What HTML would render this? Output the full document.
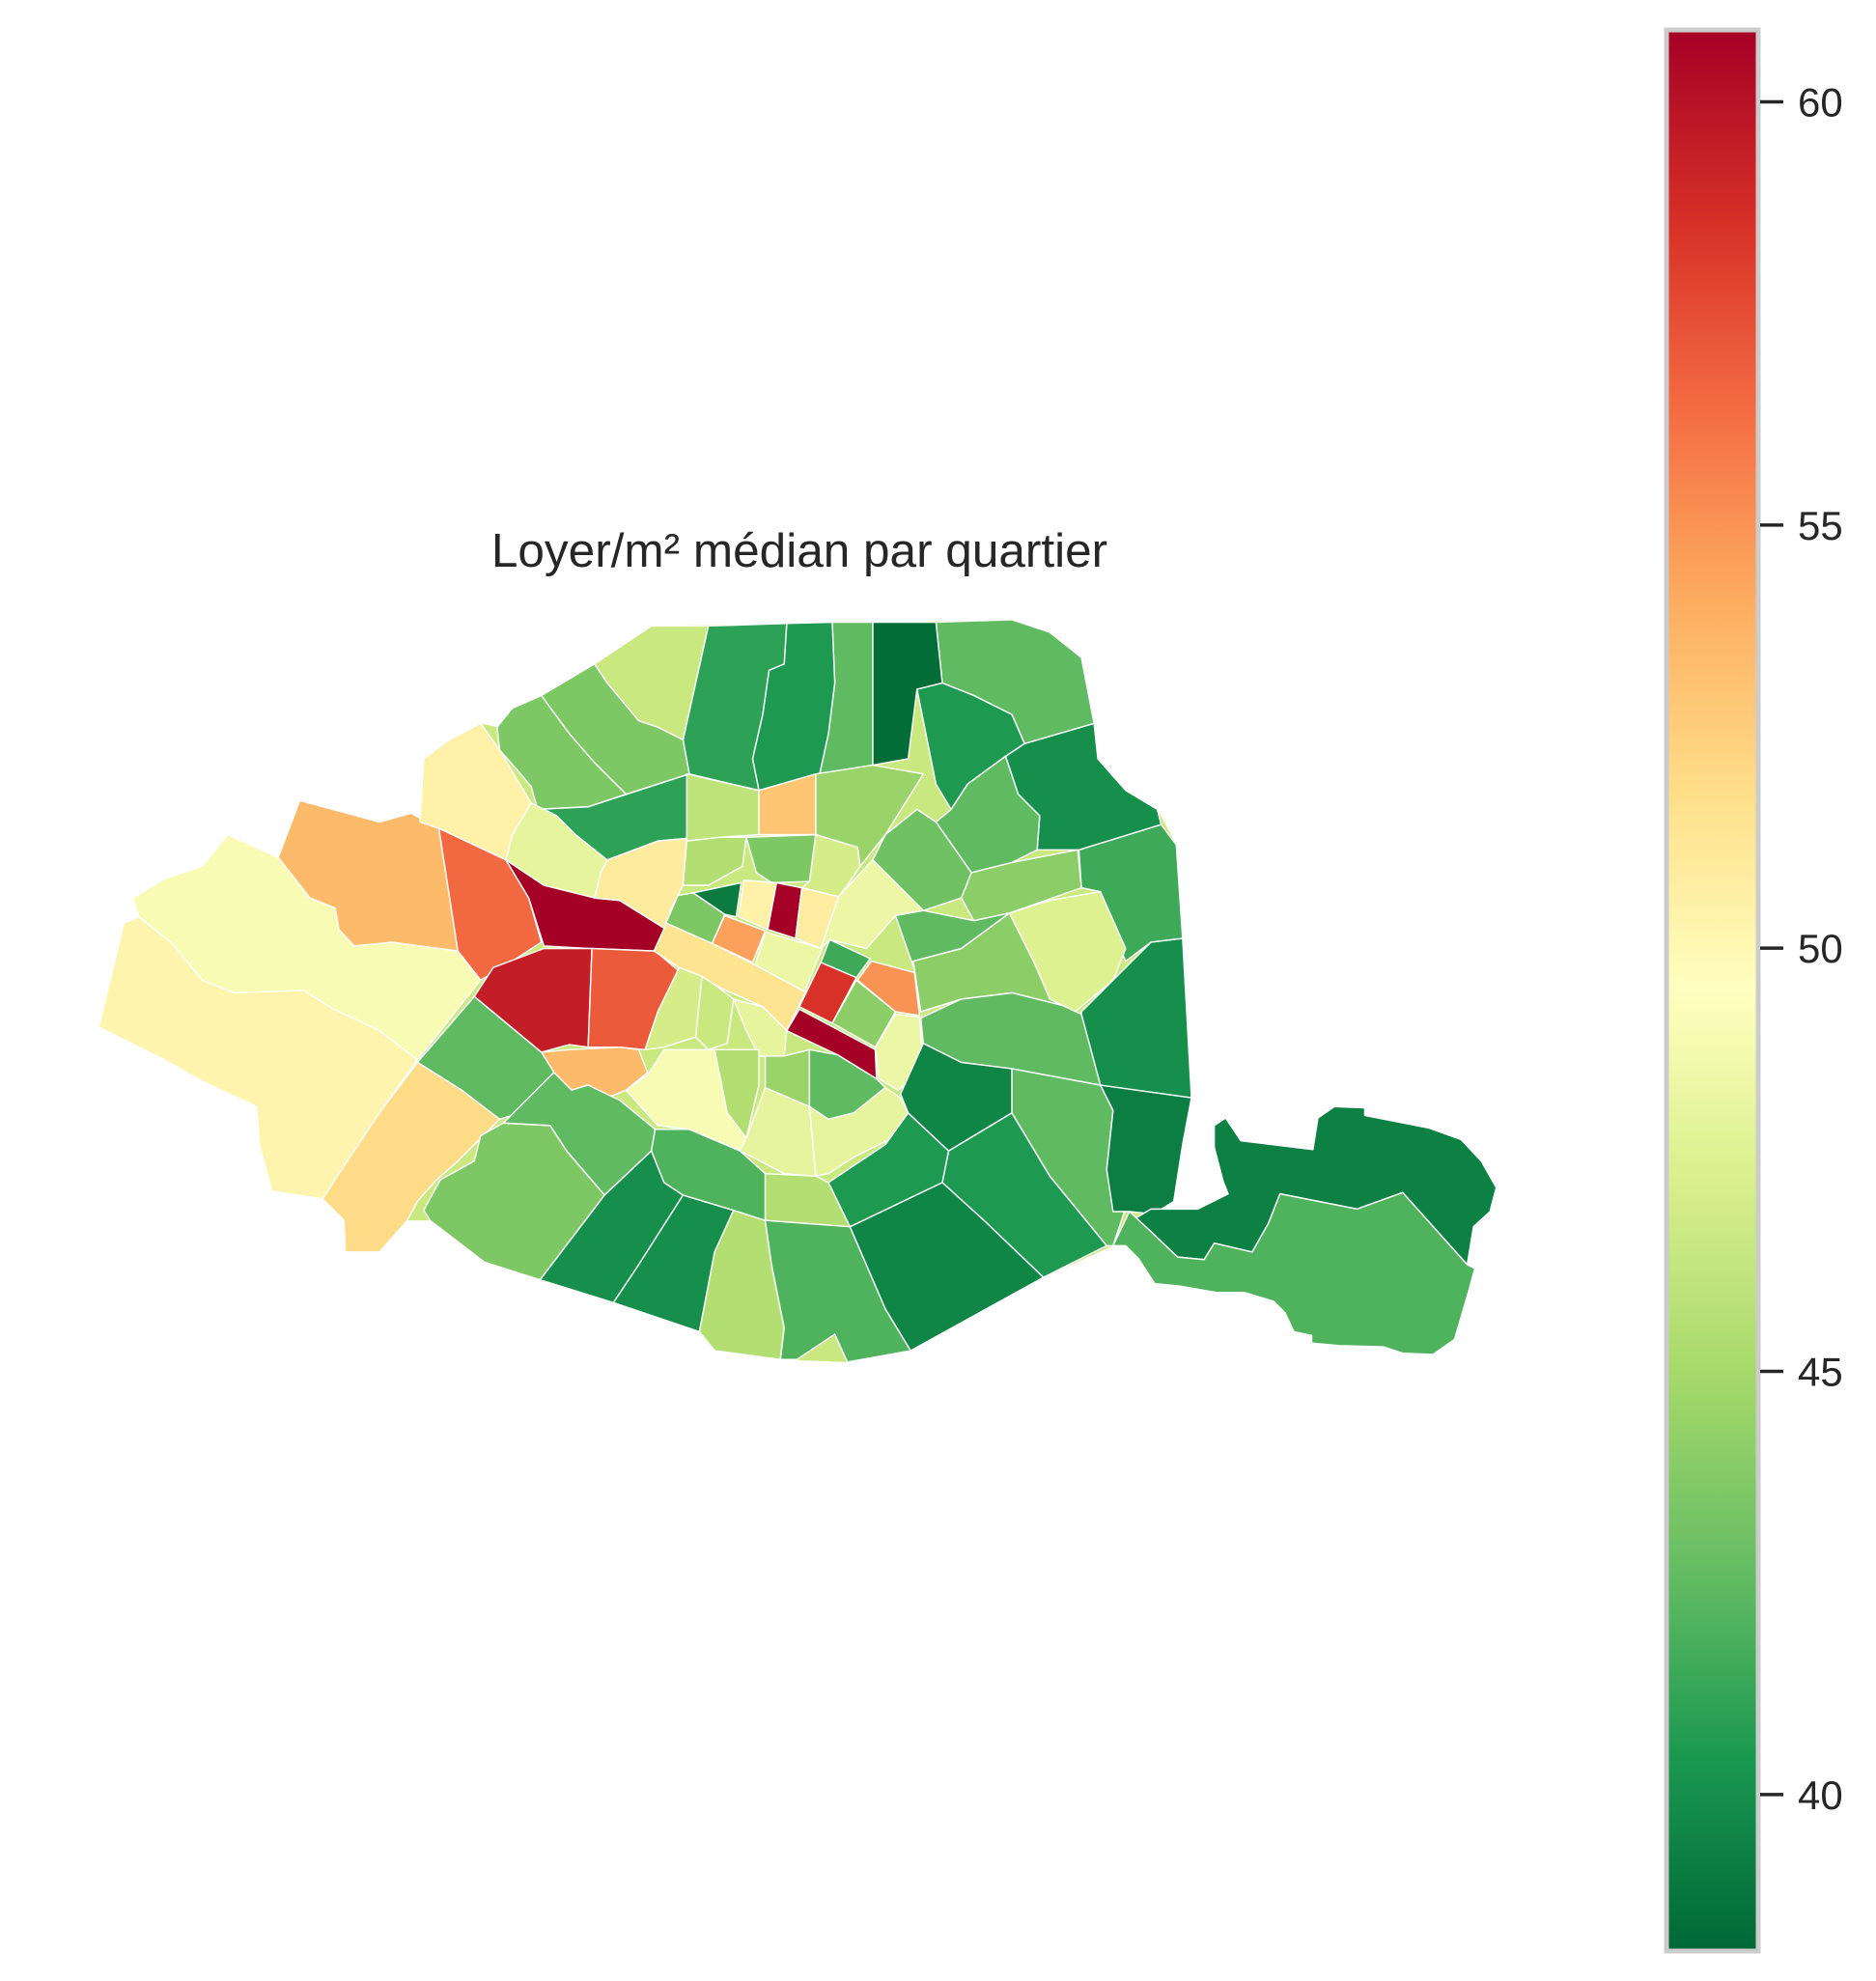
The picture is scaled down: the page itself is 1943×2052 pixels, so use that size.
<!DOCTYPE html>
<html><head><meta charset="utf-8"><title>Loyer/m² médian par quartier</title>
<style>
html,body{margin:0;padding:0;background:#fff;}
#wrap{position:relative;width:1943px;height:2052px;overflow:hidden;}
svg{position:absolute;left:0;top:0;}
text{font-family:"Liberation Sans",sans-serif;fill:#262626;}
</style></head>
<body>
<div id="wrap">
<svg id="chart" width="1943" height="2052" viewBox="0 0 1943 2052">
  <defs>
    <linearGradient id="cbgrad" x1="0" y1="1" x2="0" y2="0"></linearGradient>
  </defs>
  <text x="828" y="587" text-anchor="middle" font-size="49.5">Loyer/m² médian par quartier</text>
  <g id="map" transform="scale(1.31)"></g>
  <g id="colorbar"></g>
</svg>
</div>
<script>
// ---- data ----
const vmin = 38.15;
const vmax = 60.85;
const colorbarTicks = [40, 45, 50, 55, 60];
const colorbarTickLabels = ["40", "45", "50", "55", "60"];
// median rent per m² for each quartier (same order as quartierShapes)
const quartierValues = [
 50.3, 49.0, 53.5, 50.5, 56.5, 61.0, 59.5, 57.0, 53.5, 42.5,
 52.0, 43.5, 42.5, 40.0, 40.0, 45.5, 42.0, 39.5, 40.5, 42.5,
 39.2, 39.3, 42.0, 40.0, 41.5, 47.5, 44.0, 40.0, 42.5, 40.5,
 42.5, 38.4, 42.5, 40.5, 41.0, 46.5, 43.5, 43.5, 41.0, 48.0,
 51.0, 46.0, 53.0, 44.5, 43.0, 45.5, 43.5, 47.0, 39.0, 50.5,
 61.0, 50.8, 43.5, 54.5, 51.5, 48.3, 41.5, 58.5, 55.0, 48.3,
 44.0, 61.0, 48.3, 47.0, 46.5, 48.0, 45.5, 44.5, 42.5, 49.0,
 48.0, 48.0, 42.0, 45.5, 40.5, 39.5, 42.5, 44.0, 42.5
];
const baseValue = 46.5;
// geometry (map coordinates)
const quartierShapes = [
 "78,812 98,730 110,725 135,745 160,775 185,785 240,783 262,797 300,815 330,838 300,880 270,925 255,948 215,942 205,905 203,875 160,855 130,838",
 "110,725 105,710 130,695 160,685 180,660 220,678 245,710 265,718 268,735 280,748 310,745 362,752 380,775 330,838 300,815 262,797 240,783 185,785 160,775 135,745",
 "220,678 237,633 300,650 325,643 347,655 362,752 310,745 280,748 268,735 265,718 245,710",
 "332,650 335,600 355,585 380,572 395,593 405,610 420,635 405,660 400,680 347,655",
 "347,655 400,680 418,710 428,745 405,760 380,775 362,752",
 "400,680 470,710 490,712 527,735 518,752 465,750 430,748 418,710",
 "375,788 390,765 430,750 468,750 465,828 450,826 428,832",
 "468,750 518,752 537,768 525,790 515,815 510,830 490,828 465,828",
 "428,832 450,830 490,828 505,830 512,848 495,862 480,868 465,858 452,862 438,848",
 "375,788 428,832 438,848 405,882 395,885 365,862 330,840",
 "330,840 365,862 395,885 380,900 360,920 345,933 330,950 322,965 300,990 273,990 272,965 255,948 270,925 300,880",
 "335,957 348,933 375,918 380,898 398,888 435,890 448,910 478,945 427,1012 383,998 340,965",
 "398,888 438,848 452,862 465,858 490,870 518,893 515,910 478,945 448,910 435,890",
 "427,1012 478,945 515,910 525,935 540,945 505,1000 485,1030",
 "485,1030 505,1000 540,945 580,957 565,990 553,1053",
 "553,1053 565,990 580,957 605,965 610,1000 620,1050 617,1075 565,1068",
 "605,965 655,935 672,970 700,1035 720,1068 670,1077 660,1055 630,1075 617,1075 620,1050 610,1000",
 "672,970 745,935 778,965 825,1010 720,1068 700,1035",
 "745,935 750,910 800,880 830,930 875,985 825,1010 778,965",
 "800,880 800,845 870,858 880,878 875,925 890,955 880,985 875,985 830,930",
 "870,858 942,868 935,905 928,950 912,960 893,958 880,958 875,925 880,878",
 "960,890 969,884 981,902 1038,909 1042,884 1055,875 1079,876 1079,882 1130,892 1155,901 1171,918 1183,939 1178,958 1165,970 1160,1000 1109,943 1073,956 1012,944 1003,967 990,990 960,983 952,996 931,994 908,972 895,965 910,956 947,956 971,944 967,934 960,907",
 "880,985 893,958 908,972 931,994 952,996 960,983 990,990 1003,967 1012,944 1073,956 1109,943 1160,1000 1166,1003 1162,1018 1150,1059 1133,1071 1109,1070 1094,1065 1059,1064 1037,1062 1037,1056 1023,1053 1016,1038 1007,1029 984,1022 962,1022 933,1017 913,1015 900,995 890,985",
 "855,800 910,745 935,742 942,868 870,858 855,805",
 "853,672 918,652 930,668 935,742 910,745 890,760 872,718 870,705 855,702",
 "798,722 830,712 870,705 890,750 880,775 850,800 830,790 818,762",
 "768,690 800,682 852,672 855,702 798,722 770,728 760,710",
 "795,598 810,588 865,572 868,600 890,625 915,640 918,652 853,672 820,672 822,645 805,628",
 "740,492 800,490 830,500 855,520 865,572 810,588 800,565 770,550 745,540",
 "725,545 745,540 770,550 800,565 810,588 795,598 765,620 752,640 740,620",
 "752,640 765,620 795,598 805,628 822,645 820,672 800,682 768,690 740,650",
 "690,492 740,492 745,540 725,545 718,600 690,605",
 "658,492 690,492 690,605 648,612 655,580 660,540",
 "622,493 658,492 660,540 655,580 648,612 628,618 600,625 595,600 603,565 608,530 620,525",
 "560,495 622,493 620,525 608,530 603,565 595,600 600,625 545,612 540,585",
 "470,525 515,495 560,495 540,585 520,575 505,570 480,540",
 "428,550 470,525 480,540 505,570 520,575 540,585 545,612 495,628 465,598 450,580",
 "393,575 405,560 428,550 450,580 470,603 495,628 465,638 425,640 420,622 410,610 395,593",
 "425,640 465,638 545,612 543,663 520,665 480,680 455,660 440,645",
 "405,660 420,635 440,645 455,660 480,680 475,690 470,710 430,700 400,680",
 "475,690 480,680 520,665 543,663 540,700 530,720 527,735 490,712 470,710",
 "543,612 600,625 600,660 570,662 543,665",
 "600,625 645,612 645,660 600,660",
 "645,612 690,605 730,612 700,660 680,685 678,670 645,660",
 "700,660 725,640 740,650 768,690 760,710 730,720 712,702 690,680",
 "543,665 570,662 590,662 587,685 560,700 540,700",
 "590,662 645,660 640,697 610,698 598,690",
 "645,660 678,670 680,685 670,700 663,709 634,702 640,697",
 "548,706 586,698 582,725 573,723",
 "588,696 614,698 607,735 584,725",
 "614,698 634,702 629,742 607,735",
 "634,702 663,709 649,750 629,742",
 "536,708 548,706 573,723 563,746 526,731",
 "573,724 605,736 595,761 563,746",
 "517,752 527,730 563,746 597,763 637,784 622,815 603,796 567,780 537,765",
 "605,737 650,750 636,784 597,763",
 "656,743 688,758 677,773 649,761",
 "649,761 677,773 658,809 632,796",
 "689,760 723,769 727,803 708,800 678,775",
 "663,709 690,680 712,702 730,720 708,724 685,750 656,743 649,750",
 "658,809 677,775 708,800 692,828",
 "622,815 632,798 692,830 693,853 662,834",
 "692,828 708,802 727,804 730,845 710,862 695,853",
 "510,830 520,800 537,765 555,772 560,785 550,820 525,828",
 "555,772 567,780 580,790 575,825 560,830 550,820",
 "580,790 603,796 622,815 620,835 600,835 590,815",
 "565,830 600,830 600,858 590,900 575,880 565,860",
 "605,835 620,835 640,830 640,875 620,870 605,860",
 "640,830 662,834 693,853 700,860 675,880 655,885 640,875",
 "495,862 512,850 525,830 565,830 575,880 590,900 585,910 545,893 520,890",
 "590,900 605,860 640,875 645,930 620,928 595,915 585,910",
 "640,875 655,885 675,880 700,860 712,868 718,880 705,900 675,915 655,928 645,930",
 "518,893 545,893 585,910 605,928 605,965 580,957 540,945 525,935 515,910",
 "605,928 645,930 655,935 672,970 605,965",
 "655,935 700,905 718,880 750,910 745,935 672,970",
 "712,865 730,825 760,840 800,845 800,880 750,910 718,880",
 "730,825 728,805 760,790 800,785 840,795 855,802 870,858 800,845 760,840",
 "722,760 760,750 798,722 818,762 830,790 840,795 800,785 760,790 728,800",
 "723,767 708,724 730,720 770,728 798,722 760,750 722,760"
];
const baseOutline = "78,812 98,730 110,725 105,710 130,695 160,685 180,660 220,678 237,633 300,650 325,643 332,650 335,600 355,585 380,572 393,575 405,560 428,550 470,525 515,495 800,490 830,500 855,520 865,572 868,600 890,625 915,640 930,668 935,742 942,868 928,950 912,960 880,985 825,1010 720,1068 670,1077 617,1075 565,1068 553,1053 485,1030 427,1012 383,998 340,965 322,965 300,990 273,990 272,965 255,948 215,942 205,905 203,875 160,855 130,838";

// ---- colormap (RdYlGn reversed) ----
const stops = ["#a50026","#d73027","#f46d43","#fdae61","#fee08b","#ffffbf","#d9ef8b","#a6d96a","#66bd63","#1a9850","#006837"];
function hex2rgb(h){return [parseInt(h.substr(1,2),16),parseInt(h.substr(3,2),16),parseInt(h.substr(5,2),16)];}
function cmap(v){
  let t = (v - vmin) / (vmax - vmin); t = Math.max(0, Math.min(1, t));
  let u = (1 - t) * (stops.length - 1);
  let i = Math.min(Math.floor(u), stops.length - 2), f = u - i;
  const a = hex2rgb(stops[i]), b = hex2rgb(stops[i+1]);
  return "rgb(" + a.map((c,k)=>Math.round(c + (b[k]-c)*f)).join(",") + ")";
}
const NS = "http://www.w3.org/2000/svg";
const map = document.getElementById("map");
const base = document.createElementNS(NS, "polygon");
base.setAttribute("points", baseOutline);
base.setAttribute("fill", cmap(baseValue));
base.setAttribute("stroke", "none");


map.appendChild(base);
quartierShapes.forEach((pts, i) => {
  const p = document.createElementNS(NS, "polygon");
  p.setAttribute("points", pts);
  p.setAttribute("fill", cmap(quartierValues[i]));
  p.setAttribute("stroke", "#ffffff");
  p.setAttribute("stroke-width", "1.1");
  p.setAttribute("stroke-linejoin", "round");
  
  
  map.appendChild(p);
});

// ---- colorbar ----
const cbX = 1726, cbW = 95, cbTop = 31, cbBot = 2021;
function cbY(v){ return cbBot - (v - vmin) / (vmax - vmin) * (cbBot - cbTop); }
const grad = document.getElementById("cbgrad");
for (let k = 0; k <= 20; k++) {
  const v = vmin + (vmax - vmin) * k / 20;
  const s = document.createElementNS(NS, "stop");
  s.setAttribute("offset", (k / 20 * 100) + "%");
  s.setAttribute("stop-color", cmap(v));
  grad.appendChild(s);
}
const cb = document.getElementById("colorbar");
const rect = document.createElementNS(NS, "rect");
rect.setAttribute("x", cbX); rect.setAttribute("y", cbTop);
rect.setAttribute("width", cbW); rect.setAttribute("height", cbBot - cbTop);
rect.setAttribute("fill", "url(#cbgrad)");
rect.setAttribute("stroke", "#cccccc"); rect.setAttribute("stroke-width", "5");


cb.appendChild(rect);
colorbarTicks.forEach((v, i) => {
  const y = cbY(v);
  const ln = document.createElementNS(NS, "line");
  ln.setAttribute("x1", cbX + cbW + 2); ln.setAttribute("x2", cbX + cbW + 26);
  ln.setAttribute("y1", y); ln.setAttribute("y2", y);
  ln.setAttribute("stroke", "#262626"); ln.setAttribute("stroke-width", "3.5");
  
  
  cb.appendChild(ln);
  const tx = document.createElementNS(NS, "text");
  tx.setAttribute("x", 1862); tx.setAttribute("y", y + 15);
  tx.setAttribute("font-size", "42");
  tx.textContent = colorbarTickLabels[i];
  
  
  cb.appendChild(tx);
});
</script>
</body></html>
